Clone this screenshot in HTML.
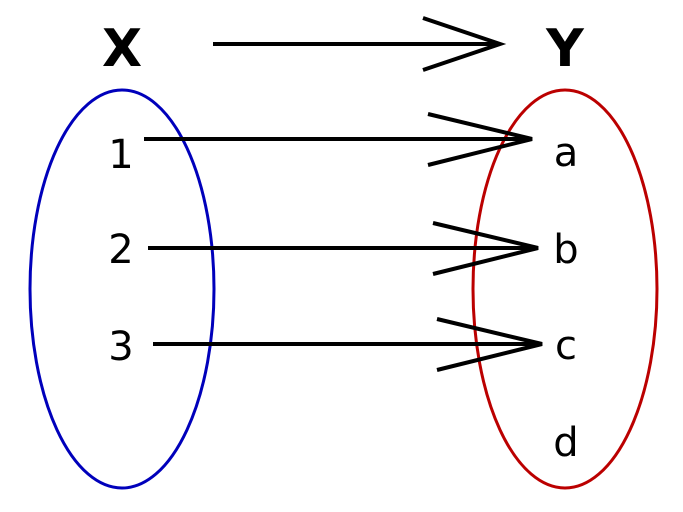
<!DOCTYPE html>
<html><head><meta charset="utf-8"><style>html,body{margin:0;padding:0;background:#fff}svg{display:block}</style></head>
<body>
<svg width="683" height="512" viewBox="0 0 683 512" xmlns="http://www.w3.org/2000/svg">
<ellipse cx="122" cy="289" rx="92" ry="199" fill="none" stroke="#0000bb" stroke-width="3"/>
<ellipse cx="565" cy="289" rx="92" ry="199" fill="none" stroke="#bb0000" stroke-width="3"/>
<g font-family="DejaVu Sans, Liberation Sans, sans-serif" fill="#000" text-anchor="middle">
<text x="122" y="66" font-size="52" font-weight="bold">X</text>
<text x="565" y="66" font-size="52" font-weight="bold">Y</text>
<text x="121" y="168" font-size="40">1</text>
<text x="121" y="263" font-size="40">2</text>
<text x="121" y="360" font-size="40">3</text>
<text x="566" y="166" font-size="40">a</text>
<text x="566" y="263" font-size="40">b</text>
<text x="566" y="359" font-size="40">c</text>
<text x="566" y="456" font-size="40">d</text>
</g>
<g stroke="#000" stroke-width="4" fill="none" stroke-linecap="butt">
<path d="M213 44H500M423 18L500 44L423 70"/>
<path d="M144 139H532M428 114L532 139L428 165"/>
<path d="M148 248H538M433 223L538 248L433 274"/>
<path d="M153 344H542M437 319L542 344L437 370"/>
</g>
</svg>
</body></html>
